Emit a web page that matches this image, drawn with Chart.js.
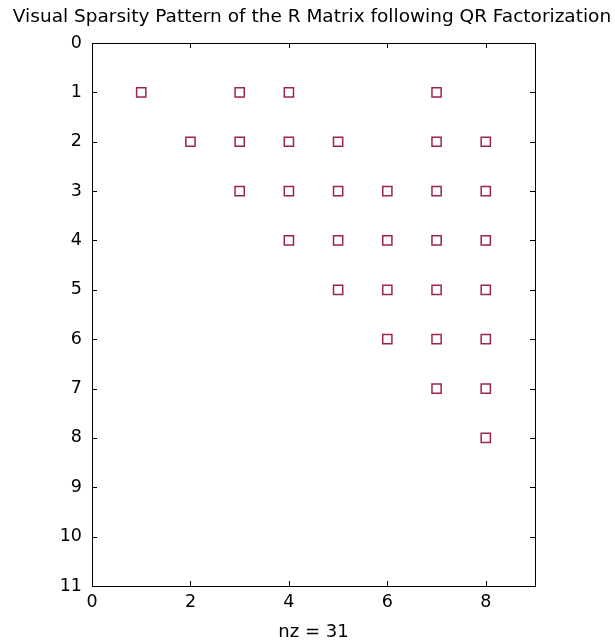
<!DOCTYPE html>
<html>
<head>
<meta charset="utf-8">
<title>Sparsity pattern</title>
<script src="https://cdn.jsdelivr.net/npm/chart.js@4"></script>
<style>
    html, body { margin: 0; padding: 0; background: #fff; }
    #wrap { width: 615px; height: 643px; position: relative; }
</style>
</head>
<body>
<div id="wrap"><canvas id="spy"></canvas></div>
<script>
// nonzero entries of R: one row index per column list
const rowIndex = [1, 1, 1, 1,
                  2, 2, 2, 2, 2, 2,
                  3, 3, 3, 3, 3, 3,
                  4, 4, 4, 4, 4,
                  5, 5, 5, 5,
                  6, 6, 6,
                  7, 7,
                  8];
const colIndex = [1, 3, 4, 7,
                  2, 3, 4, 5, 7, 8,
                  3, 4, 5, 6, 7, 8,
                  4, 5, 6, 7, 8,
                  5, 6, 7, 8,
                  6, 7, 8,
                  7, 8,
                  8];
const xTicks = [0, 2, 4, 6, 8];
const yTicks = [0, 1, 2, 3, 4, 5, 6, 7, 8, 9, 10, 11];
const titleText = 'Visual Sparsity Pattern of the R Matrix following QR Factorization';
const xLabel = 'nz = ' + rowIndex.length;

const points = colIndex.map((c, i) => ({ x: c, y: rowIndex[i] }));
const FONT = '"DejaVu Sans", Verdana, sans-serif';

// title is drawn by hand: it spans almost the whole canvas, wider than the chart area
const wideTitle = {
    id: 'wideTitle',
    afterDraw(chart) {
        const ctx = chart.ctx;
        const targetWidth = 598;
        ctx.save();
        ctx.font = '18.5px ' + FONT;
        ctx.fillStyle = '#000';
        ctx.textAlign = 'center';
        ctx.textBaseline = 'middle';
        const w = ctx.measureText(titleText).width;
        if ('letterSpacing' in ctx && w < targetWidth) {
            ctx.letterSpacing = ((targetWidth - w) / titleText.length).toFixed(2) + 'px';
        }
        ctx.fillText(titleText, 312, 17);
        ctx.restore();
    }
};

// box around the plot and small tick marks pointing inward on all four sides
const boxTicks = {
    id: 'boxTicks',
    afterDraw(chart) {
        const { ctx, chartArea: a, scales } = chart;
        const len = 5;
        ctx.save();
        ctx.strokeStyle = '#000';
        ctx.lineWidth = 1;
        ctx.strokeRect(a.left + 0.5, a.top + 0.5, a.right - a.left, a.bottom - a.top);
        ctx.beginPath();
        xTicks.forEach(v => {
            const px = Math.round(scales.x.getPixelForValue(v)) + 0.5;
            ctx.moveTo(px, a.bottom); ctx.lineTo(px, a.bottom - len);
            ctx.moveTo(px, a.top); ctx.lineTo(px, a.top + len);
        });
        yTicks.forEach(v => {
            const py = Math.round(scales.y.getPixelForValue(v)) + 0.5;
            ctx.moveTo(a.left, py); ctx.lineTo(a.left + len, py);
            ctx.moveTo(a.right, py); ctx.lineTo(a.right - len, py);
        });
        ctx.stroke();
        ctx.restore();
    }
};

new Chart(document.getElementById('spy'), {
    type: 'scatter',
    data: {
        datasets: [{
            data: points,
            pointStyle: 'rect',
            pointRadius: 6.5,
            pointHoverRadius: 6.5,
            backgroundColor: 'rgba(0,0,0,0)',
            borderColor: '#9c2549',
            borderWidth: 1.5
        }]
    },
    options: {
        responsive: true,
        maintainAspectRatio: false,
        animation: false,
        layout: { padding: { left: 0, right: 80, top: 43, bottom: 0 } },
        plugins: {
            legend: { display: false },
            tooltip: { enabled: false },
            title: { display: false }
        },
        scales: {
            x: {
                type: 'linear',
                min: 0,
                max: 9,
                afterBuildTicks: s => { s.ticks = xTicks.map(v => ({ value: v })); },
                afterFit: s => { s.height = 57; },
                grid: { display: false, drawTicks: false },
                border: { display: false },
                ticks: {
                    color: '#000',
                    padding: 6,
                    font: { family: FONT, size: 17.5 }
                },
                title: {
                    display: true,
                    text: xLabel,
                    color: '#000',
                    padding: { top: 2, bottom: 0 },
                    font: { family: FONT, size: 18 }
                }
            },
            y: {
                type: 'linear',
                reverse: true,
                min: 0,
                max: 11,
                afterBuildTicks: s => { s.ticks = yTicks.map(v => ({ value: v })); },
                afterFit: s => { s.width = 92; },
                grid: { display: false, drawTicks: false },
                border: { display: false },
                ticks: {
                    color: '#000',
                    padding: 10,
                    font: { family: FONT, size: 17.5 }
                }
            }
        }
    },
    plugins: [boxTicks, wideTitle]
});
</script>
</body>
</html>
